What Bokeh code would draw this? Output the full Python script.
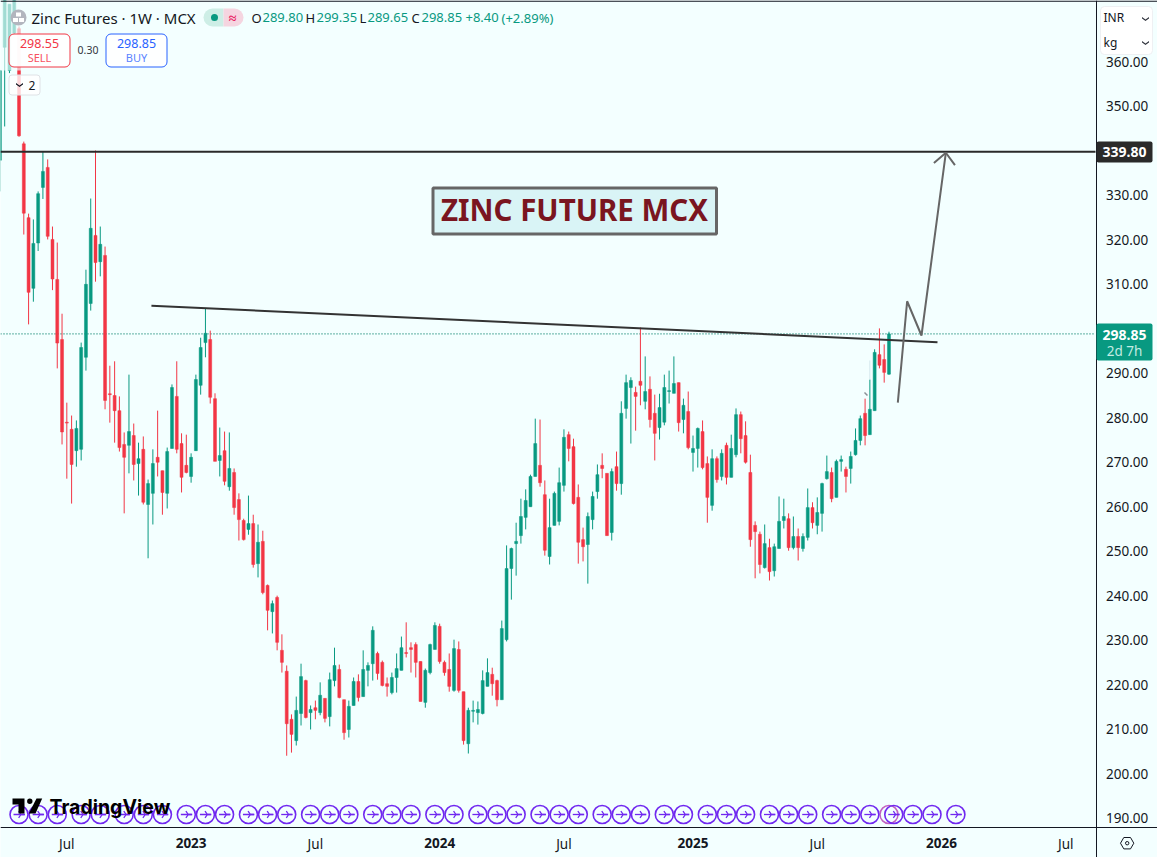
from bokeh.embed import file_html
from bokeh.resources import INLINE
from bokeh.plotting import figure
from bokeh.models import (BoxAnnotation, ColumnDataSource, FixedTicker, Label, LinearAxis,
                          NumeralTickFormatter, PolyAnnotation, Range1d)

# ---------- data (weekly bars, first bar index = -5) ----------
first_week = -5
opens = [337.9, 363.3, 358.1, 366.5, 367.5,
         341.6, 325.0, 309.1, 319.3, 331.8, 336.3, 320.1, 311.1, 297.6, 279.0,
         277.4, 272.6, 272.9, 293.6, 305.7, 321.0, 315.1, 316.5, 285.4, 285.0,
         281.6, 274.0, 273.8, 276.0, 269.7, 272.9, 260.5, 263.0, 271.1, 268.1,
         263.0, 273.1, 284.8, 274.2, 269.3, 266.8, 272.6, 287.3, 296.9, 297.6,
         284.3, 270.4, 272.6, 264.5, 267.7, 261.6, 256.9, 254.9, 256.2, 247.2,
         252.2, 242.3, 236.4, 239.6, 227.7, 223.0, 212.2, 207.4, 213.5, 220.9,
         213.7, 214.8, 213.7, 216.9, 212.8, 220.9, 223.4, 216.6, 209.9, 215.3,
         220.7, 217.3, 223.2, 224.7, 227.0, 225.0, 220.2, 218.2, 221.6, 223.2,
         227.2, 228.3, 229.0, 225.2, 216.0, 222.7, 227.9, 233.1, 225.0, 223.4,
         218.7, 227.9, 218.4, 206.7, 214.0, 213.7, 213.5, 219.6, 222.3, 220.9,
         216.6, 230.1, 246.1, 251.7, 253.5, 257.6, 260.0, 266.8, 269.3, 262.7,
         248.8, 255.8, 256.7, 264.8, 276.2, 273.5, 262.1, 252.6, 251.5, 257.1,
         263.4, 269.3, 267.5, 254.2, 269.0, 265.2, 282.1, 286.8, 285.7, 288.2,
         283.7, 286.4, 281.0, 277.8, 279.0, 285.9, 285.5, 287.9, 279.6, 281.4,
         272.2, 273.1, 276.9, 269.7, 260.3, 270.8, 266.8, 273.8, 266.6, 271.7,
         280.7, 276.0, 267.7, 255.8, 253.8, 246.3, 250.8, 245.6, 250.6, 256.9,
         257.3, 250.8, 253.3, 250.6, 253.1, 259.8, 255.8, 258.5, 266.3, 267.7,
         262.1, 270.2, 268.4, 268.6, 271.7, 274.9, 281.0, 276.2, 281.6, 294.2,
         293.1, 289.80]
highs = [358.1, 374.0, 373.0, 374.0, 368.0,
         342.1, 325.9, 324.6, 330.9, 339.9, 338.1, 323.0, 319.4, 303.4, 283.4,
         280.5, 279.4, 296.9, 313.3, 329.3, 340.1, 323.0, 318.5, 291.7, 292.7,
         284.8, 276.7, 289.7, 278.7, 274.4, 275.8, 266.1, 272.9, 281.6, 268.1,
         273.3, 287.5, 292.7, 276.5, 276.2, 272.0, 289.7, 298.0, 304.6, 299.6,
         285.5, 277.8, 276.9, 276.7, 268.6, 263.0, 257.3, 262.5, 258.2, 256.0,
         254.6, 242.5, 238.9, 240.0, 231.3, 224.3, 213.3, 217.3, 224.7, 221.1,
         215.3, 216.4, 220.5, 216.9, 222.7, 228.3, 224.5, 216.6, 216.4, 221.6,
         222.3, 227.7, 225.0, 233.1, 227.4, 225.4, 221.6, 222.7, 227.0, 230.8,
         234.0, 229.5, 229.5, 225.2, 223.6, 229.2, 234.0, 233.7, 225.4, 227.0,
         230.1, 229.7, 218.4, 214.8, 216.4, 216.2, 223.2, 225.9, 223.8, 221.1,
         234.4, 251.3, 250.8, 256.4, 261.8, 263.9, 267.2, 279.8, 279.6, 265.9,
         261.8, 263.4, 268.8, 277.4, 276.9, 275.3, 265.0, 255.3, 258.7, 263.4,
         269.5, 272.0, 267.5, 268.6, 272.4, 283.7, 289.7, 289.1, 287.0, 300.3,
         293.8, 289.3, 285.2, 285.4, 289.7, 290.6, 293.8, 287.9, 284.3, 285.9,
         276.0, 277.8, 279.4, 271.3, 272.9, 271.3, 272.9, 274.4, 276.2, 282.1,
         281.4, 279.2, 271.7, 256.7, 254.4, 256.0, 252.8, 251.7, 262.3, 261.8,
         258.5, 257.8, 255.1, 254.0, 264.1, 261.0, 262.1, 265.4, 271.5, 268.8,
         270.6, 271.5, 269.0, 272.4, 277.6, 280.5, 284.3, 288.6, 295.4, 300.1,
         296.5, 299.35]
lows = [330.9, 345.5, 357.5, 366.0, 343.2,
        321.2, 301.0, 306.1, 317.5, 329.2, 320.1, 308.7, 291.1, 274.0, 266.3,
        260.7, 269.0, 270.4, 290.6, 304.1, 310.6, 311.8, 281.9, 278.9, 274.4,
        272.4, 258.5, 267.5, 265.9, 262.5, 260.5, 248.4, 256.0, 266.8, 258.2,
        259.6, 273.1, 272.0, 263.2, 267.5, 265.4, 272.6, 285.2, 293.6, 283.2,
        270.2, 266.8, 264.8, 263.6, 258.2, 252.4, 252.4, 253.7, 246.3, 244.1,
        240.3, 232.2, 231.5, 227.7, 222.7, 204.0, 204.7, 206.3, 210.8, 212.4,
        209.9, 212.2, 213.1, 211.5, 210.6, 219.6, 216.9, 207.6, 208.1, 215.3,
        216.2, 217.3, 219.6, 220.9, 221.1, 219.6, 217.3, 217.8, 218.2, 223.2,
        226.1, 222.7, 221.6, 216.2, 214.8, 222.3, 227.9, 224.7, 222.0, 218.4,
        218.4, 218.2, 206.5, 204.5, 211.5, 211.0, 213.3, 219.6, 217.5, 215.1,
        216.6, 229.7, 239.1, 244.5, 251.7, 254.9, 260.0, 266.8, 264.5, 249.0,
        247.0, 255.8, 255.8, 263.4, 270.2, 260.5, 247.2, 247.7, 242.7, 254.9,
        261.8, 266.4, 253.5, 252.4, 263.6, 262.7, 279.8, 274.2, 277.1, 282.8,
        281.9, 277.8, 270.4, 275.1, 278.3, 283.2, 285.5, 276.9, 276.5, 272.9,
        267.9, 268.8, 268.4, 256.4, 259.1, 265.4, 265.9, 265.0, 266.6, 271.1,
        272.0, 269.7, 251.0, 243.9, 245.0, 246.1, 243.4, 244.3, 250.6, 255.1,
        250.1, 250.4, 247.9, 249.9, 252.4, 255.1, 253.8, 254.4, 266.1, 261.0,
        262.1, 267.9, 263.2, 265.2, 271.5, 273.8, 273.8, 276.2, 281.6, 291.1,
        287.9, 289.65]
closes = [358.1, 374.0, 373.0, 374.0, 343.4,
          326.0, 308.2, 319.2, 330.4, 335.4, 320.8, 311.2, 296.8, 276.8, 278.8,
          269.5, 277.6, 295.8, 310.0, 322.6, 314.9, 319.0, 283.9, 285.2, 281.6,
          273.3, 271.1, 276.9, 269.5, 270.8, 261.0, 265.2, 269.7, 270.0, 263.2,
          272.4, 286.8, 272.9, 266.6, 267.7, 271.1, 288.6, 295.8, 299.0, 284.6,
          270.2, 271.5, 265.7, 268.6, 259.8, 257.1, 252.6, 256.2, 247.0, 252.0,
          240.7, 236.7, 238.2, 229.5, 225.0, 211.2, 208.8, 214.2, 221.8, 212.6,
          214.4, 214.2, 217.6, 212.4, 221.1, 224.3, 217.1, 209.2, 215.1, 220.7,
          217.1, 223.4, 224.3, 232.2, 222.5, 219.8, 219.6, 221.6, 223.6, 228.3,
          227.0, 227.9, 225.0, 216.2, 223.2, 229.0, 233.3, 225.2, 222.7, 219.6,
          228.1, 218.7, 207.4, 214.2, 214.2, 214.4, 220.9, 222.7, 220.2, 216.6,
          232.6, 246.1, 250.6, 252.2, 257.8, 261.4, 266.8, 274.2, 265.4, 250.2,
          255.3, 263.0, 265.4, 275.6, 273.1, 260.7, 252.0, 251.0, 257.8, 262.3,
          267.2, 268.6, 253.5, 267.9, 265.2, 281.0, 287.9, 288.4, 284.8, 287.3,
          285.9, 279.6, 276.5, 282.3, 286.8, 286.1, 287.7, 278.9, 282.8, 273.3,
          273.1, 277.6, 268.8, 262.1, 270.8, 266.1, 272.0, 266.6, 273.1, 280.7,
          275.3, 270.0, 252.6, 254.4, 247.0, 251.7, 245.4, 251.0, 256.7, 257.8,
          250.8, 253.3, 250.8, 253.3, 259.8, 256.4, 258.7, 265.2, 267.9, 261.8,
          270.2, 270.6, 266.8, 271.3, 274.9, 279.8, 276.0, 281.9, 294.7, 291.8,
          290.2, 298.85]

price_ticks = [190, 200, 210, 220, 230, 240, 250, 260, 270, 280, 290,
               310, 320, 330, 350, 360]
month_ticks = [9, 61, 113, 166, 218]
month_labels = ["Jul", "Jul", "Jul", "Jul", "Jul"]
year_ticks = [35, 87, 140, 192]
year_labels = ["2023", "2024", "2025", "2026"]

target_level = 339.80
last_price = 298.85
trend_weeks = [26.7, 191.15]
trend_prices = [305.2, 297.0]
path_weeks = [182.85, 184.8, 187.8, 192.9]
path_prices = [283.4, 306.2, 298.5, 339.6]
head_weeks = [190.4, 192.9, 194.8]
head_prices = [337.3, 339.6, 336.8]
event_weeks = [-1, 3, 7, 12, 16, 21, 25, 29, 34, 38, 42, 47, 51, 55, 60, 64, 68, 73,
               77, 81, 86, 90, 95, 99, 103, 108, 112, 116, 121, 125, 129, 134, 138,
               143, 147, 151, 156, 160, 164, 169, 173, 177, 182, 186, 190, 195]
earlier_event_week = [181]

# ---------- styles ----------
BG = "#f3ffff"
UP = "#089981"
DOWN = "#f23645"
INK = "#131722"
FONT = "Noto Sans"
PURPLE = "#7028f0"


# reference-pixel -> chart coordinates, used to place the interface overlays
def dx(px):
    return (px - 23.3) / 4.78


def dy(py):
    return 373.83 - 0.22487 * py


# The frame covers the whole canvas; the two scales sit inside it at fixed locations,
# so the price tags and the panel over the price scale can be drawn on top of them.
p = figure(width=1157, height=857, output_backend="svg", toolbar_location=None,
           x_range=Range1d(dx(0), dx(1157)), y_range=Range1d(dy(857), dy(0)),
           x_axis_location=None, y_axis_location=None,
           min_border_left=0, min_border_top=0, min_border_right=0, min_border_bottom=0,
           background_fill_color=BG, border_fill_color=BG, outline_line_color=None)
p.grid.visible = False

y_axis = LinearAxis(fixed_location=dx(1095.5), ticker=FixedTicker(ticks=price_ticks),
                    formatter=NumeralTickFormatter(format="0.00"), major_label_standoff=10)
x_axis = LinearAxis(fixed_location=dy(827.3), ticker=FixedTicker(ticks=month_ticks),
                    major_label_overrides=dict(zip(month_ticks, month_labels)),
                    major_label_standoff=7)
for ax in (y_axis, x_axis):
    ax.major_tick_out = 0
    ax.major_tick_in = 0
    ax.minor_tick_out = 0
    ax.minor_tick_in = 0
    ax.major_tick_line_color = None
    ax.minor_tick_line_color = None
    ax.axis_line_color = INK
    ax.major_label_text_font = FONT
    ax.major_label_text_font_size = "13.5px"
    ax.major_label_text_color = INK
p.add_layout(y_axis, "right")
p.add_layout(x_axis, "below")

weeks = [first_week + i for i in range(len(closes))]
colors = [UP if c >= o else DOWN for o, c in zip(opens, closes)]
src = ColumnDataSource(dict(x=weeks, o=opens, h=highs, l=lows, c=closes, color=colors))

chart_edges = [dx(0), dx(1095)]
p.line(chart_edges, [last_price, last_price], line_color="#06806c", line_width=1.2, line_dash=[1, 2])
p.segment("x", "h", "x", "l", source=src, line_color="color", line_width=1)
p.vbar("x", 0.62, "o", "c", source=src, fill_color="color", line_color="color", line_width=0.5)

# small leftover drawing marks next to the last bars
p.segment([dx(864)], [dy(392)], [dx(867)], [dy(395)], line_color="#8a9096", line_width=1.5)
p.segment([dx(869.3)], [dy(360)], [dx(869.3)], [dy(379)], line_color="#d5e8ee", line_width=1)

p.line(chart_edges, [target_level, target_level], line_color="#2a2a2a", line_width=2)
p.line(trend_weeks, trend_prices, line_color="#333333", line_width=2)
p.line(path_weeks, path_prices, line_color="#666666", line_width=2)
p.line(head_weeks, head_prices, line_color="#666666", line_width=2)

# event markers along the bottom
ev_y = dy(814)
ev_ys = [ev_y] * len(event_weeks)
p.scatter(earlier_event_week, [ev_y], marker="circle", size=18, fill_alpha=0,
          line_color="#c060c0", line_width=1.5)
p.scatter(event_weeks, ev_ys, marker="circle", size=18, fill_alpha=0,
          line_color=PURPLE, line_width=1.6)
p.scatter(event_weeks, ev_ys, marker="dash", size=11, line_color=PURPLE, line_width=1.3)
p.scatter([w + 0.4 for w in event_weeks], ev_ys, marker="y", size=8, angle=1.5708,
          line_color=PURPLE, line_width=1.3)


def box(l, t, r, b, fill, line=None, lw=1.0, radius=0, alpha=1.0):
    p.add_layout(BoxAnnotation(left=dx(l), right=dx(r), top=dy(t), bottom=dy(b),
                               fill_color=fill, fill_alpha=alpha if fill else 0,
                               line_color=line, line_alpha=1.0,
                               line_width=lw, border_radius=radius, level="overlay"))


def poly(points, fill, line=None, lw=1.0):
    p.add_layout(PolyAnnotation(xs=[dx(a) for a, _ in points], ys=[dy(b) for _, b in points],
                                fill_color=fill, fill_alpha=1.0 if fill else 0,
                                line_color=line, line_alpha=1.0, line_width=lw, level="overlay"))


def lab(px, py, text, size=13, color=INK, style="normal", align="left", font=FONT):
    p.add_layout(Label(x=dx(px), y=dy(py), text=text, text_font=font,
                       text_font_size=f"{size}px", text_color=color, text_font_style=style,
                       text_align=align, text_baseline="middle", level="overlay"))


def chevron(cx, cy, color):
    poly([(cx - 3.5, cy - 1.5), (cx, cy + 1), (cx + 3.5, cy - 1.5), (cx + 3.5, cy),
          (cx, cy + 2.5), (cx - 3.5, cy)], color)


# year labels in bold on the time scale
for wk, txt in zip(year_ticks, year_labels):
    p.add_layout(Label(x=wk, y=dy(842.5), text=txt, text_font=FONT, text_font_size="13.5px",
                       text_font_style="bold", text_color=INK, text_align="center",
                       text_baseline="middle", level="overlay"))

# title box
box(432.5, 187.5, 716, 233.5, "#d9f4f6", "#666666", 3)
lab(574, 209, "ZINC FUTURE MCX", 29.5, "#7a1520", "bold", "center")

# translucent legend backdrop over the first bars
box(0, 0, 28, 70, BG, alpha=0.65)

# header
box(10, 9, 26, 25, "#b2b5be", radius=8)
box(15.5, 12, 20.5, 16, "#ffffff")
box(12.5, 17.5, 17.5, 21.5, "#ffffff")
box(18.5, 17.5, 23.5, 21.5, "#ffffff")
lab(31, 17, "Zinc Futures · 1W · MCX", 15)
box(203, 8, 223, 26, "#cdeee6", radius={"top_left": 9, "bottom_left": 9})
box(223, 8, 243, 26, "#f5d5e0", radius={"top_right": 9, "bottom_right": 9})
box(210.5, 13.5, 217.5, 20.5, UP, radius=4)
lab(232, 17, "≈", 14, "#e91e63", "bold", "center")
for px, letter, val_px, val in [(251, "O", 262, "289.80"), (305, "H", 316, "299.35"),
                                (359, "L", 367, "289.65"), (411, "C", 421, "298.85")]:
    lab(px, 17, letter, 13)
    lab(val_px, 17, val, 13, UP)
lab(465, 17, "+8.40", 13, UP)
lab(501, 17, "(+2.89%)", 13, UP)

# sell / buy buttons
box(8.5, 33.5, 69.5, 66.5, "#ffffff", DOWN, 1, 5, 0.92)
lab(39, 43, "298.55", 12.5, DOWN, "normal", "center")
lab(39, 57, "SELL", 11, "#f7525f", "normal", "center")
lab(87.5, 49.5, "0.30", 10.5, "#333740", "normal", "center")
box(105.5, 33.5, 166.5, 66.5, "#ffffff", "#2962ff", 1, 5, 0.92)
lab(136, 43, "298.85", 12.5, "#2962ff", "normal", "center")
lab(136, 57, "BUY", 11, "#5b84ff", "normal", "center")
box(8.5, 74.5, 39.5, 94.5, "#ffffff", "#dfe2e6", 1, 3, 0.8)
chevron(19, 84, INK)
lab(28, 84.5, "2", 12)

# price scale overlays
box(1100, 6, 1152, 54, "#ffffff", "#eef0f3", 1, 4)
lab(1103, 17, "INR", 12)
lab(1103, 42, "kg", 12)
chevron(1145, 18, "#333740")
chevron(1145, 42, "#333740")
box(1096, 141, 1152, 162, "#2a2a2a", radius=2)
lab(1124, 151.5, "339.80", 14, "#ffffff", "bold", "center")
box(1096, 323, 1152, 360, UP, radius=2)
lab(1124, 334, "298.85", 14, "#ffffff", "bold", "center")
lab(1124, 350, "2d 7h", 13.5, "#c3ece3", "normal", "center")

# top frame edge and settings icon
box(0, 0, 1157, 1.2, INK)
poly([(1120, 842.7), (1123.3, 837), (1130, 837), (1133.3, 842.7), (1130, 848.4), (1123.3, 848.4)],
     None, INK, 1)
box(1125, 841, 1128.4, 844.4, None, INK, 1, 2)

# logo
poly([(12, 798), (24, 798), (24, 813), (18, 813), (18, 804), (12, 804)], "#000000")
box(26.6, 798, 32, 803.4, "#000000", radius=3)
poly([(36, 798), (41.7, 798), (35, 813), (28.3, 813)], "#000000")
lab(49, 806, "TradingView", 19.5, "#000000", "bold", "left", "Inter")

open("out.html", "w").write(file_html(p, INLINE))
